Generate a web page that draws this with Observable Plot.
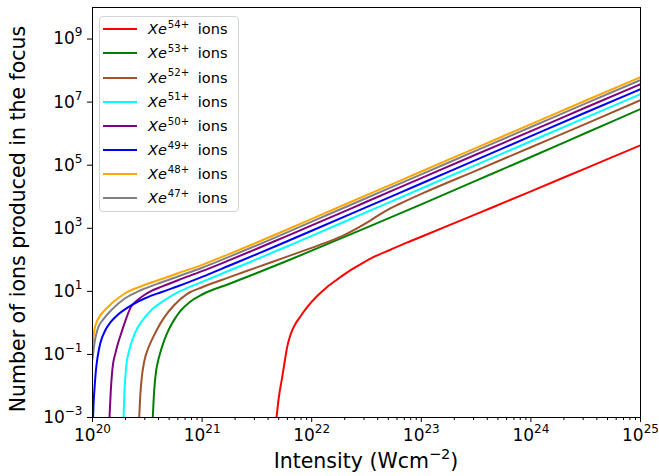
<!DOCTYPE html>
<html>
<head>
<meta charset="utf-8">
<script src="https://cdn.jsdelivr.net/npm/d3@7"></script>
<script src="https://cdn.jsdelivr.net/npm/@observablehq/plot@0.6"></script>
<style>
  body { margin: 0; background: #fff; font-family: "DejaVu Sans", sans-serif; }
  #wrap { position: relative; width: 659px; height: 476px; }
  #legend { position: absolute; left: 99px; top: 16px; width: 138px; height: 194px;
            border: 1px solid #d3d3d3; border-radius: 4px; background: rgba(255,255,255,0.85);
            font-family: "DejaVu Sans", sans-serif; font-size: 14.5px; color: #000; }
  .row { position: absolute; left: 0; height: 24px; width: 138px; }
  .handle { position: absolute; left: 3px; width: 34px; height: 2px; top: 11px; }
  .lab { position: absolute; left: 48px; top: 0; height: 24px; line-height: 24px; white-space: nowrap; }
  .lab i { font-style: italic; }
  .lab sup { font-size: 70%; vertical-align: baseline; position: relative; top: -0.62em; margin-left: 1px; margin-right: 4px; }
</style>
</head>
<body>
<div id="wrap"></div>
<script>
// ---- data (log10 intensity, log10 number of ions) ----
const seriesNames = ["Xe54+", "Xe53+", "Xe52+", "Xe51+", "Xe50+", "Xe49+", "Xe48+", "Xe47+"];
const seriesCharges = ["54+", "53+", "52+", "51+", "50+", "49+", "48+", "47+"];
const seriesColors = ["red", "green", "sienna", "cyan", "purple", "blue", "orange", "gray"];

const xe54 = [[21.679,-3],[21.70,-2.36],[21.731,-1.72],[21.755,-1.2],[21.776,-0.77],[21.80,-0.45],[21.822,-0.24],[21.852,-0.03],[21.90,0.22],[21.959,0.50],[22.05,0.85],[22.141,1.14],[22.25,1.42],[22.354,1.67],[22.46,1.89],[22.567,2.09],[22.719,2.32],[22.85,2.52],[23.0,2.73],[23.5,3.45],[24.0,4.17],[24.5,4.90],[25.0,5.63]];
const xe53 = [[20.55,-3],[20.563,-2.14],[20.581,-1.51],[20.596,-1.24],[20.618,-0.95],[20.648,-0.62],[20.678,-0.35],[20.709,-0.12],[20.742,0.08],[20.803,0.38],[20.894,0.68],[21.0,0.90],[21.25,1.24],[21.5,1.58],[21.75,1.93],[22.0,2.29],[22.5,3.02],[23.0,3.76],[23.5,4.51],[24.0,5.26],[24.5,6.02],[25.0,6.78]];
const xe52 = [[20.426,-3],[20.435,-2.36],[20.45,-1.72],[20.474,-1.19],[20.511,-0.78],[20.547,-0.5],[20.59,-0.2],[20.65,0.15],[20.742,0.55],[20.864,0.92],[21.0,1.13],[21.25,1.45],[21.5,1.76],[21.75,2.07],[22.0,2.38],[22.2,2.64],[22.3,2.79],[22.4,2.97],[22.5,3.17],[22.6,3.39],[22.7,3.60],[22.8,3.77],[23.0,4.09],[23.5,4.83],[24.0,5.57],[24.5,6.31],[25.0,7.06]];
const xe51 = [[20.283,-3],[20.292,-2.14],[20.307,-1.40],[20.335,-0.87],[20.368,-0.5],[20.39,-0.3],[20.45,0.05],[20.541,0.42],[20.663,0.73],[20.785,0.98],[21.0,1.30],[21.25,1.66],[21.5,2.02],[21.75,2.39],[22.0,2.76],[22.5,3.51],[23.0,4.26],[23.5,5.01],[24.0,5.76],[24.5,6.51],[25.0,7.25]];
const xe50 = [[20.155,-3],[20.167,-2.14],[20.182,-1.45],[20.21,-0.95],[20.237,-0.6],[20.265,-0.3],[20.298,0.05],[20.35,0.5],[20.42,0.75],[20.48,0.90],[20.529,1.0],[20.632,1.15],[20.785,1.36],[21.0,1.64],[21.25,1.99],[21.5,2.35],[21.75,2.72],[22.0,3.09],[22.5,3.84],[23.0,4.59],[23.5,5.34],[24.0,6.08],[24.5,6.83],[25.0,7.57]];
const xe49 = [[20.005,-3],[20.01,-2.55],[20.018,-2.1],[20.03,-1.55],[20.048,-1.05],[20.07,-0.66],[20.116,-0.24],[20.16,0.0],[20.207,0.18],[20.328,0.50],[20.48,0.78],[20.632,0.98],[20.785,1.17],[21.0,1.46],[21.25,1.82],[21.5,2.18],[21.75,2.55],[22.0,2.92],[22.5,3.67],[23.0,4.42],[23.5,5.17],[24.0,5.92],[24.5,6.67],[25.0,7.41]];
const xe48 = [[20.0,-0.7],[20.01,-0.4],[20.02,-0.18],[20.035,0.0],[20.06,0.18],[20.10,0.36],[20.176,0.62],[20.298,0.94],[20.45,1.17],[20.632,1.39],[20.785,1.58],[21.0,1.84],[21.25,2.19],[21.5,2.55],[21.75,2.92],[22.0,3.30],[22.5,4.05],[23.0,4.80],[23.5,5.55],[24.0,6.30],[24.5,7.05],[25.0,7.79]];
const xe47 = [[20.0,-1.15],[20.01,-0.85],[20.02,-0.6],[20.035,-0.35],[20.055,-0.12],[20.10,0.12],[20.176,0.42],[20.298,0.78],[20.45,1.05],[20.632,1.29],[20.785,1.48],[21.0,1.75],[21.25,2.10],[21.5,2.46],[21.75,2.83],[22.0,3.21],[22.5,3.96],[23.0,4.71],[23.5,5.46],[24.0,6.21],[24.5,6.96],[25.0,7.70]];
const seriesPoints = [xe54, xe53, xe52, xe51, xe50, xe49, xe48, xe47];

const xTickExps = [20, 21, 22, 23, 24, 25];
const yTickExps = [-3, -1, 1, 3, 5, 7, 9];
const xLabelMain = "Intensity (Wcm";
const xLabelSup = "\u22122";
const xLabelEnd = ")";
const yLabel = "Number of ions produced in the focus";

// ---- build table ----
const rows = seriesPoints.flatMap((pts, i) =>
  pts.map(([lx, ly]) => ({series: seriesNames[i], I: 10 ** lx, N: 10 ** ly})));
const xMinor = xTickExps.slice(0, -1).flatMap(e => [2,3,4,5,6,7,8,9].map(m => m * 10 ** e));
const expFmt = d => { const e = Math.round(Math.log10(d)); return "10^" + (e < 0 ? "\u2212" + (-e) : e); };

const W = 659, H = 476, ML = 92, MR = 19, MT = 7, MB = 59;
const chart = Plot.plot({
  width: W, height: H,
  marginLeft: ML, marginRight: MR, marginTop: MT, marginBottom: MB,
  style: {fontFamily: "DejaVu Sans", background: "white", color: "black"},
  x: {type: "log", domain: [1e20, 1e25]},
  y: {type: "log", domain: [1e-3, 1e10]},
  color: {domain: seriesNames, range: seriesColors},
  marks: [
    Plot.line(rows, {x: "I", y: "N", z: "series", stroke: "series", strokeWidth: 2, curve: "monotone-x", clip: true}),
    Plot.frame({stroke: "black", strokeWidth: 1}),
    Plot.axisX(xMinor, {tickSize: 3, tickFormat: () => "", label: null}),
    Plot.axisX(xTickExps.map(e => 10 ** e), {tickSize: 5, tickPadding: 6, tickFormat: expFmt, label: null, fontSize: 17}),
    Plot.axisY(yTickExps.map(e => 10 ** e), {tickSize: 5, tickPadding: 5, tickFormat: expFmt, label: null, fontSize: 17})
  ]
});

// superscripts in tick labels
const NS = "http://www.w3.org/2000/svg";
chart.querySelectorAll('g[aria-label="x-axis tick label"] text, g[aria-label="y-axis tick label"] text').forEach(t => {
  const m = t.textContent.match(/^10\^(.*)$/);
  if (!m) return;
  t.textContent = "10";
  const ts = document.createElementNS(NS, "tspan");
  ts.setAttribute("font-size", "12");
  ts.setAttribute("dy", "-8");
  ts.textContent = m[1];
  t.appendChild(ts);
});

// axis titles
const xt = document.createElementNS(NS, "text");
xt.setAttribute("x", (ML + (W - MR)) / 2);
xt.setAttribute("y", 468);
xt.setAttribute("text-anchor", "middle");
xt.setAttribute("font-size", "20.5");
xt.setAttribute("fill", "black");
xt.appendChild(document.createTextNode(xLabelMain));
const xs = document.createElementNS(NS, "tspan");
xs.setAttribute("font-size", "14.5"); xs.setAttribute("dy", "-9"); xs.textContent = xLabelSup;
xt.appendChild(xs);
const xe = document.createElementNS(NS, "tspan");
xe.setAttribute("dy", "9"); xe.textContent = xLabelEnd;
xt.appendChild(xe);
chart.appendChild(xt);

const yt = document.createElementNS(NS, "text");
yt.setAttribute("transform", "translate(25,219) rotate(-90)");
yt.setAttribute("text-anchor", "middle");
yt.setAttribute("font-size", "20.5");
yt.setAttribute("fill", "black");
yt.textContent = yLabel;
chart.appendChild(yt);

const wrap = document.getElementById("wrap");
wrap.appendChild(chart);

// legend
const legend = document.createElement("div");
legend.id = "legend";
seriesNames.forEach((name, i) => {
  const row = document.createElement("div");
  row.className = "row";
  row.style.top = (0.3 + 24.15 * i) + "px";
  const h = document.createElement("div");
  h.className = "handle";
  h.style.background = seriesColors[i];
  const lab = document.createElement("div");
  lab.className = "lab";
  lab.innerHTML = "<i>Xe</i><sup>" + seriesCharges[i] + "</sup> ions";
  row.appendChild(h); row.appendChild(lab);
  legend.appendChild(row);
});
wrap.appendChild(legend);
</script>
</body>
</html>
